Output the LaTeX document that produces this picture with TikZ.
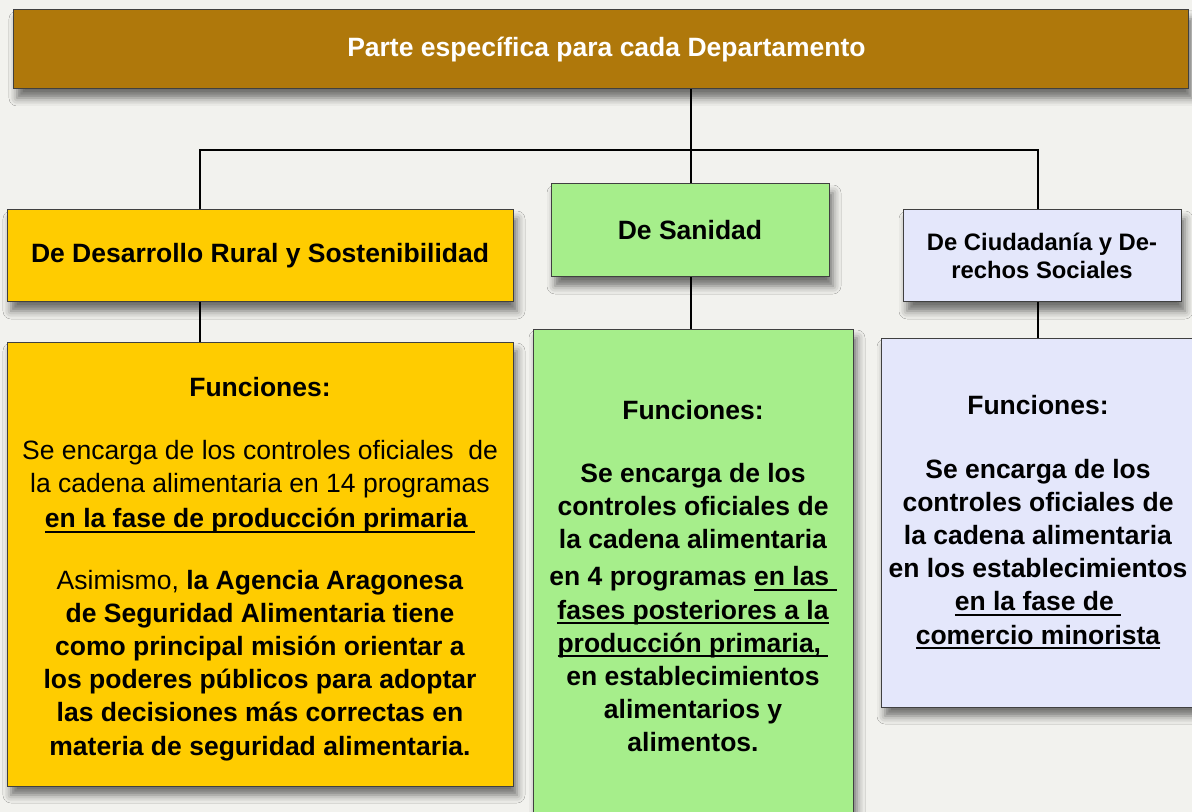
\documentclass[tikz,border=0pt]{standalone}
\usepackage{fontspec}
\setmainfont{Liberation Sans}
\usetikzlibrary{shadows.blur}
\definecolor{fondo}{HTML}{F2F2EE}
\definecolor{pardo}{HTML}{AF780B}
\definecolor{amarillo}{HTML}{FFCC00}
\definecolor{verde}{HTML}{A6EE8B}
\definecolor{lila}{HTML}{E4E7FB}
\newcommand\subraya[1]{\setbox0\hbox{#1}\rlap{\rule[-2.6pt]{\wd0}{1pt}}\box0}
\newcommand\letra{\fontsize{13.25}{16.6}\selectfont}

\tikzset{
  caja/.style={draw=black!75, line width=0.5pt, align=center, inner sep=0pt,
    font=\letra,
    blur shadow={shadow xshift=2pt, shadow yshift=-4.5pt,
      shadow blur radius=4pt, shadow opacity=55}},
  enlace/.style={line width=1.2pt, black}
}

\begin{document}
\begin{tikzpicture}[x=0.5pt, y=-0.5pt]
\fill[fondo] (0,0) rectangle (1192,812);
\useasboundingbox (0,0) rectangle (1192,812);

% cabecera
\node[caja, fill=pardo, minimum width=587.5pt, minimum height=39.5pt,
  text=white] (dep) at (600.5,49.5) {\hspace*{6pt}\textbf{Parte específica para cada Departamento}};

% departamentos
\node[caja, fill=amarillo, minimum width=253pt, minimum height=46pt]
  (rural) at (260,256) {\textbf{De Desarrollo Rural y Sostenibilidad}};
\node[caja, fill=verde, minimum width=139pt, minimum height=46.5pt]
  (sanidad) at (690,230.5) {\textbf{De Sanidad}};
\node[caja, fill=lila, minimum width=139pt, minimum height=46pt,
  font=\fontsize{11.9}{14}\selectfont]
  (ciudad) at (1042,256) {\textbf{De Ciudadanía y De-}\\ \textbf{rechos Sociales}};

% funciones
\node[caja, fill=amarillo, minimum width=253pt, minimum height=222pt]
  (ruralf) at (260,564) {\rule{0pt}{14.5pt}\textbf{Funciones:}\\[15pt]
  Se encarga de los controles oficiales\ \ de\\
  la cadena alimentaria en 14 programas\\[1pt]
  \textbf{\subraya{en la fase de producción primaria\ }}\\[14pt]
  Asimismo, \textbf{la Agencia Aragonesa}\\
  \textbf{de Seguridad Alimentaria tiene}\\
  \textbf{como principal misión orientar a}\\
  \textbf{los poderes públicos para adoptar}\\
  \textbf{las decisiones más correctas en}\\
  \textbf{materia de seguridad alimentaria.}};
\node[caja, fill=verde, minimum width=160pt, minimum height=247pt]
  (sanidadf) at (693,576) {\textbf{Funciones:}\\[15pt]
  \textbf{Se encarga de los}\\
  \textbf{controles oficiales de}\\
  \textbf{la cadena alimentaria}\\[2pt]
  \textbf{en 4 programas \subraya{en las\ }}\\
  \textbf{\subraya{fases posteriores a la}}\\
  \textbf{\subraya{producción primaria,\ }}\\
  \textbf{en establecimientos}\\
  \textbf{alimentarios y}\\
  \textbf{alimentos.}};
\node[caja, fill=lila, minimum width=157pt, minimum height=184.5pt]
  (ciudadf) at (1038,522.5) {\textbf{Funciones:}\\[15pt]
  \textbf{Se encarga de los}\\
  \textbf{controles oficiales de}\\
  \textbf{la cadena alimentaria}\\
  \textbf{en los establecimientos}\\
  \textbf{\subraya{en la fase de\ }}\\
  \textbf{\subraya{comercio minorista}}};

% conexiones
\coordinate (busL) at (200,150);
\coordinate (busM) at (691,150);
\coordinate (busR) at (1038,150);
\draw[enlace] (dep.south -| busM) -- (busM);
\draw[enlace] (busL |- rural.north) -- (busL) -- (busR) -- (busR |- ciudad.north);
\draw[enlace] (busM) -- (busM |- sanidad.north);
\draw[enlace] (rural.south -| busL) -- (ruralf.north -| busL);
\draw[enlace] (sanidad.south -| busM) -- (sanidadf.north -| busM);
\draw[enlace] (ciudad.south -| busR) -- (ciudadf.north -| busR);
\end{tikzpicture}
\end{document}
